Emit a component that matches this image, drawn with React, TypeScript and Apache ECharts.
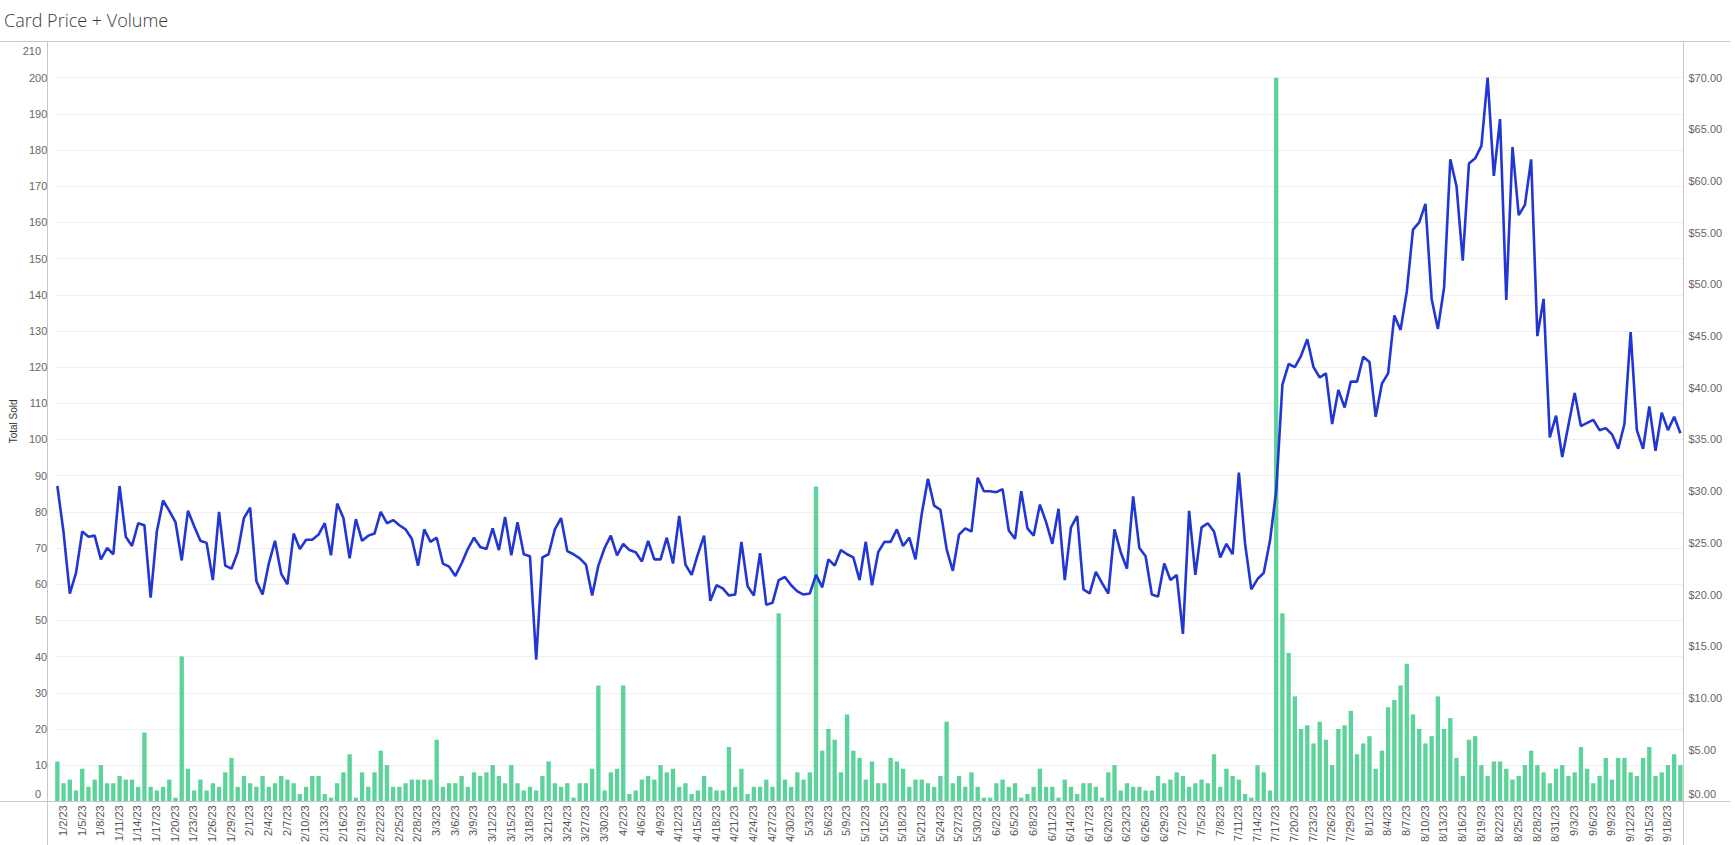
import React, { useEffect, useRef } from "react";
import * as echarts from "echarts";

// ---- Data ----
const startYear = 2023;
const startMonthIndex = 0; // January
const startDay = 2;
const calendarDays = 263; // 1/2/23 .. 9/21/23
const missingDates = ["4/4/23"]; // one day absent from the source data
const labelStep = 3;
const lastLabelledIndex = 258; // 9/18/23

const priceJan = [30.5, 26.0, 20.1, 22.1, 26.1, 25.6, 25.7, 23.4, 24.5, 23.9, 30.5, 25.6, 24.7, 26.9, 26.7, 19.7, 26.1, 29.1, 28.1, 27.0, 23.3, 28.1, 26.6, 25.2, 25.0, 21.4, 28.0, 22.8, 22.5, 24.1, 27.4, 28.4, 21.3];
const priceFeb = [20.0, 23.0, 25.2, 22.0, 21.0, 25.9, 24.4, 25.3, 25.3, 25.8, 26.9, 23.8, 28.8, 27.4, 23.5, 27.3, 25.2, 25.7, 25.9, 28.0, 26.9, 27.2, 26.7, 26.3, 25.4, 22.8, 26.3, 25.1, 25.5, 23.0, 22.7, 21.8];
const priceMar = [23.0, 24.4, 25.5, 24.6, 24.4, 26.4, 24.3, 27.5, 23.8, 27.0, 23.9, 23.7, 13.7, 23.6, 23.9, 26.3, 27.4, 24.2, 23.9, 23.5, 22.9, 19.9, 22.8, 24.5, 25.7, 23.8, 24.9, 24.3, 24.1, 23.2, 25.2, 23.4, 23.4];
const priceApr = [25.5, 23.0, 27.6, 22.9, 21.9, 23.9, 25.7, 19.4, 20.9, 20.6, 19.9, 20.0, 25.1, 20.8, 19.9, 24.0, 19.0, 19.2, 21.4, 21.7, 20.9, 20.3, 20.0, 20.1, 21.9, 20.7, 23.4, 22.8, 24.3, 23.9, 23.6, 21.4];
const priceMay = [25.1, 20.9, 24.1, 25.1, 25.1, 26.3, 24.7, 25.5, 23.4, 27.8, 31.2, 28.6, 28.2, 24.4, 22.3, 25.8, 26.4, 26.1, 31.3, 30.0, 30.0, 29.9, 30.2, 26.2, 25.4, 30.0, 26.4, 25.7, 28.7, 27.0, 24.9, 28.3, 21.4, 26.5];
const priceJun = [27.6, 20.5, 20.1, 22.2, 21.1, 20.1, 26.3, 24.1, 22.5, 29.5, 24.5, 23.7, 20.0, 19.8, 23.0, 21.4, 21.9, 16.2, 28.1, 21.9, 26.5, 26.9, 26.1, 23.6, 24.9, 23.9, 31.8, 24.9, 20.5, 21.5, 22.1, 25.2, 30.0];
const priceJul = [40.3, 42.3, 42.0, 43.1, 44.7, 42.0, 41.0, 41.4, 36.5, 39.8, 38.1, 40.6, 40.6, 43.0, 42.5, 37.2, 40.4, 41.4, 47.0, 45.6, 49.3, 55.3, 56.0, 57.8, 48.6, 45.7, 49.7, 62.1, 59.5, 52.3, 61.7, 62.2, 63.4];
const priceAug = [70.0, 60.5, 66.0, 48.5, 63.3, 56.7, 57.7, 62.1, 45.0, 48.6, 35.2, 37.3, 33.3, 36.4, 39.5, 36.3, 36.6, 36.9, 35.9, 36.1, 35.5, 34.1, 36.5, 45.4, 35.9, 34.1, 38.2, 33.9, 37.6, 35.9, 37.2, 35.6];

const soldJan = [11, 5, 6, 3, 9, 4, 6, 10, 5, 5, 7, 6, 6, 4, 19, 4, 3, 4, 6, 1, 40, 9, 3, 6, 3, 5, 4, 8, 12, 4, 7, 5, 4];
const soldFeb = [7, 4, 5, 7, 6, 5, 2, 4, 7, 7, 2, 1, 5, 8, 13, 1, 8, 4, 8, 14, 10, 4, 4, 5, 6, 6, 6, 6, 17, 4, 5, 5];
const soldMar = [7, 4, 8, 7, 8, 10, 7, 5, 10, 5, 3, 4, 3, 7, 11, 5, 4, 5, 1, 5, 5, 9, 32, 3, 8, 9, 32, 2, 3, 6, 7, 6, 10];
const soldApr = [8, 9, 4, 5, 2, 3, 7, 4, 3, 3, 15, 4, 9, 2, 4, 4, 6, 4, 52, 6, 4, 8, 6, 8, 87, 14, 20, 17, 8, 24, 14, 12];
const soldMay = [6, 11, 5, 5, 12, 11, 9, 4, 6, 6, 5, 4, 7, 22, 5, 7, 4, 8, 4, 1, 1, 5, 6, 4, 5, 1, 2, 4, 9, 4, 4, 1, 6, 4];
const soldJun = [2, 5, 5, 4, 1, 8, 10, 3, 5, 4, 4, 3, 3, 7, 5, 6, 8, 7, 4, 5, 6, 5, 13, 4, 9, 7, 6, 2, 1, 10, 8, 3, 200];
const soldJul = [52, 41, 29, 20, 21, 16, 22, 17, 10, 20, 21, 25, 13, 16, 18, 9, 14, 26, 28, 32, 38, 24, 20, 16, 18, 29, 20, 23, 12, 7, 17, 18, 10];
const soldAug = [7, 11, 11, 9, 6, 7, 10, 14, 10, 8, 5, 9, 10, 7, 8, 15, 9, 5, 7, 12, 6, 12, 12, 8, 7, 12, 15, 7, 8, 10, 13, 10];

const price = [...priceJan, ...priceFeb, ...priceMar, ...priceApr, ...priceMay, ...priceJun, ...priceJul, ...priceAug];
const totalSold = [...soldJan, ...soldFeb, ...soldMar, ...soldApr, ...soldMay, ...soldJun, ...soldJul, ...soldAug];

const dates: string[] = [];
for (let i = 0; i < calendarDays; i++) {
  const d = new Date(Date.UTC(startYear, startMonthIndex, startDay + i));
  const label = `${d.getUTCMonth() + 1}/${d.getUTCDate()}/23`;
  if (!missingDates.includes(label)) dates.push(label);
}

const W = 1735;
const H = 845;
const PLOT_L = 48;
const PLOT_R = 1683.5;
const PLOT_T = 41.5;
const PLOT_B = 801.5;
const BORDER = "#c8c8c8";
const LABEL_FONT = "Liberation Sans, Arial, sans-serif";

export default function App() {
  const ref = useRef<HTMLDivElement>(null);

  useEffect(() => {
    if (!ref.current) return;
    const chart = echarts.init(ref.current, null, { renderer: "svg" });
    const lineStyle = { stroke: BORDER, lineWidth: 1 };
    const edgeLabel = (text: string, x: number, y: number, align: string, fill: string) => ({
      type: "text",
      x,
      y,
      style: { text, fontSize: 11, fontFamily: LABEL_FONT, fill, align, verticalAlign: "middle" },
      z: 101,
    });
    chart.setOption({
      animation: false,
      backgroundColor: "#ffffff",
      textStyle: { fontFamily: LABEL_FONT },
      grid: {
        left: PLOT_L,
        right: W - PLOT_R,
        top: PLOT_T,
        bottom: H - PLOT_B,
      },
      graphic: [
        {
          type: "text",
          left: 4,
          top: 11,
          style: {
            text: "Card Price + Volume",
            fontSize: 18,
            fontWeight: 300,
            fontFamily: "Open Sans, Lato, sans-serif",
            fill: "#3a3a3a",
          },
        },
        { type: "line", shape: { x1: 0, y1: PLOT_T, x2: 1730, y2: PLOT_T }, style: lineStyle, z: 100 },
        { type: "line", shape: { x1: 0, y1: PLOT_B, x2: 1730, y2: PLOT_B }, style: lineStyle, z: 100 },
        { type: "line", shape: { x1: PLOT_L - 0.5, y1: PLOT_T, x2: PLOT_L - 0.5, y2: H }, style: lineStyle, z: 100 },
        { type: "line", shape: { x1: PLOT_R, y1: PLOT_T, x2: PLOT_R, y2: H }, style: lineStyle, z: 100 },
        edgeLabel("210", 41, 50.5, "right", "#666666"),
        edgeLabel("0", 41, 794, "right", "#666666"),
        edgeLabel("$0.00", 1688.5, 794, "left", "#6e6262"),
      ],
      xAxis: {
        type: "category",
        data: dates,
        boundaryGap: true,
        axisLine: { show: false },
        axisTick: { show: false },
        axisLabel: {
          interval: (idx: number) => idx % labelStep === 0 && idx <= lastLabelledIndex,
          rotate: 90,
          fontSize: 11,
          color: "#555555",
          margin: 4,
          verticalAlign: "top",
        },
        splitLine: { show: false },
      },
      yAxis: [
        {
          type: "value",
          min: 0,
          max: 210,
          interval: 10,
          name: "Total Sold",
          nameLocation: "middle",
          nameGap: 36,
          nameRotate: 90,
          nameTextStyle: { fontSize: 10, color: "#333333" },
          axisLine: { show: false },
          axisTick: { show: false },
          axisLabel: {
            fontSize: 11,
            color: "#666666",
            margin: 7,
            formatter: (v: number) => (v <= 0 || v >= 210 ? "" : String(v)),
          },
          splitLine: { show: true, lineStyle: { color: "#f0f0f0", width: 1 } },
        },
        {
          type: "value",
          min: 0,
          max: 73.5,
          interval: 5,
          position: "right",
          axisLine: { show: false },
          axisTick: { show: false },
          axisLabel: {
            fontSize: 11,
            color: "#6e6262",
            margin: 5,
            formatter: (v: number) => (v > 70.001 || v <= 0 ? "" : `$${v.toFixed(2)}`),
          },
          splitLine: { show: false },
        },
      ],
      series: [
        {
          type: "bar",
          name: "Total Sold",
          yAxisIndex: 0,
          data: totalSold,
          barWidth: "70%",
          itemStyle: { color: "#5dd39b" },
          z: 2,
        },
        {
          type: "line",
          name: "Price",
          yAxisIndex: 1,
          data: price,
          symbol: "none",
          lineStyle: { color: "#2236d4", width: 2.6 },
          z: 3,
        },
      ],
    });
    return () => chart.dispose();
  }, []);

  return (
    <div
      ref={ref}
      style={{ position: "fixed", left: 0, top: 0, width: W, height: H, background: "#fff" }}
    />
  );
}
